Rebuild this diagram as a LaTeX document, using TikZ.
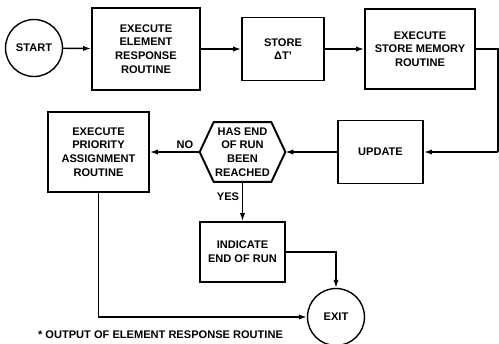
\documentclass[tikz,border=0pt]{standalone}
\usepackage{fontspec}
\setmainfont{Liberation Sans}
\usepackage{tikz}
\usetikzlibrary{arrows.meta,positioning,calc}
\newcommand{\flowfont}{\fontsize{6.3}{7.8}\selectfont\bfseries}
\tikzstyle{procbox}=[rectangle, draw=black, line width=1.1pt, fill=white, align=center, inner sep=1pt, font=\flowfont]
\tikzstyle{termcircle}=[circle, draw=black, line width=0.8pt, inner sep=0pt, minimum size=1.14cm, font=\flowfont]
\tikzstyle{flowarrow}=[->, >={Latex[length=4.5pt,width=3pt]}, line width=0.8pt]
\tikzstyle{flowlabel}=[font=\flowfont, inner sep=1pt]

\begin{document}
\begin{tikzpicture}
    \useasboundingbox (0,0) rectangle (9.98,-6.86);

    % Linha superior
    \node[termcircle] (start) at (0.68,-0.96) {START};
    \node[procbox, minimum width=2.16cm, minimum height=1.64cm] (elemresp) at (2.92,-0.98)
      {EXECUTE\\ELEMENT\\RESPONSE\\ROUTINE};
    \node[procbox, minimum width=1.64cm, minimum height=1.26cm] (storedt) at (5.66,-0.98)
      {STORE\\ΔT'};
    \node[procbox, minimum width=2.2cm, minimum height=1.6cm] (storemem) at (8.40,-0.98)
      {EXECUTE\\STORE MEMORY\\ROUTINE};
    \coordinate (edgetop) at (9.96,-0.98);
    \coordinate (edgebot) at (9.96,-3.04);

    % Linha do meio
    \node[procbox, minimum width=1.70cm, minimum height=1.26cm] (update) at (7.61,-3.04) {UPDATE};
    \node[font=\flowfont, align=center, minimum width=1.70cm, minimum height=1.18cm, inner sep=0pt]
      (endrun) at (4.85,-3.04) {HAS END\\OF RUN\\BEEN\\REACHED};
    \draw[line width=1.1pt] (endrun.west) -- ($(endrun.north west)+(0.28,0)$)
      -- ($(endrun.north east)+(-0.28,0)$) -- (endrun.east)
      -- ($(endrun.south east)+(-0.28,0)$) -- ($(endrun.south west)+(0.28,0)$) -- cycle;
    \node[procbox, minimum width=2.02cm, minimum height=1.6cm] (priority) at (1.97,-3.04)
      {EXECUTE\\PRIORITY\\ASSIGNMENT\\ROUTINE};

    % Linha inferior
    \node[procbox, minimum width=1.70cm, minimum height=1.2cm] (indicate) at (4.85,-5.04)
      {INDICATE\\END OF RUN};
    \node[termcircle] (exit) at (6.72,-6.34) {EXIT};

    % Setas
    \draw[flowarrow] (start) -- (elemresp);
    \draw[flowarrow] (elemresp) -- (storedt);
    \draw[flowarrow] (storedt) -- (storemem);
    \draw[line width=0.8pt] (storemem.east) -- (edgetop) -- (edgebot);
    \draw[flowarrow] (edgebot) -- (update.east);
    \draw[flowarrow] (update) -- (endrun.east);
    \draw[flowarrow] (endrun.west) -- (priority.east);
    \draw[flowarrow] (endrun.south) -- (indicate.north);
    \draw[flowarrow] (indicate.east) -| (exit.north);
    \draw[flowarrow] (priority.south) |- (exit.west);

    % Rotulos
    \node[flowlabel] (nolabel) at (3.70,-2.90) {NO};
    \node[flowlabel] (yeslabel) at (4.56,-3.94) {YES};
    \node[flowlabel, anchor=west] (footnote) at (0.72,-6.70) {* OUTPUT OF ELEMENT RESPONSE ROUTINE};
  \end{tikzpicture}
\end{document}
